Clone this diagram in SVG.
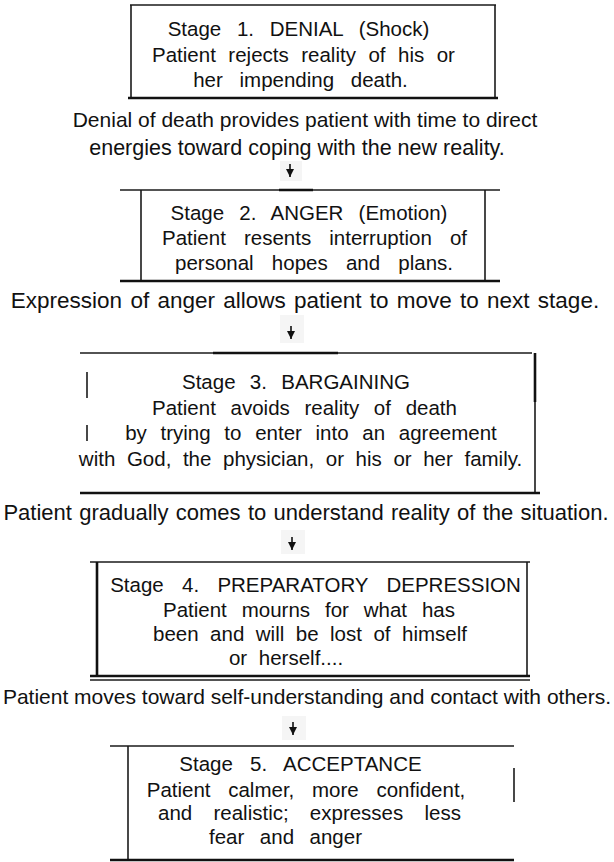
<svg xmlns="http://www.w3.org/2000/svg" width="614" height="862" viewBox="0 0 614 862">
  <defs>
    <marker id="head" viewBox="0 0 10 10" refX="10" refY="5" markerWidth="8" markerHeight="8" markerUnits="userSpaceOnUse" orient="auto">
      <path d="M0,0 L10,5 L0,10 Z" fill="#111"/>
    </marker>
    <style>
      .box { fill: #ffffff; stroke: none; }
      .edge { stroke: #1a1a1a; stroke-width: 1.6; fill: none; }
      .edge-b { stroke: #111; stroke-width: 2.6; fill: none; }
      .t { font-family: "Liberation Sans", Arial, sans-serif; font-size: 20.5px; fill: #111; text-anchor: middle; }
      .d { font-family: "Liberation Sans", Arial, sans-serif; font-size: 21.5px; fill: #111; text-anchor: middle; }
      .arrow { stroke: #111; stroke-width: 1.6; fill: none; marker-end: url(#head); }
      .patch { fill: #f5f5f5; }
    </style>
  </defs>

  <rect width="614" height="862" fill="#ffffff"/>

  <!-- Stage 1 -->
  <g id="stage1">
    <rect class="box" x="131" y="5" width="364" height="93"/>
    <line class="edge" x1="130" y1="5" x2="496" y2="5"/>
    <line class="edge" x1="131" y1="5" x2="131" y2="98"/>
    <line class="edge" x1="495" y1="5" x2="495" y2="98"/>
    <line class="edge-b" x1="128" y1="98" x2="498" y2="98"/>
    <text class="t" x="298.5" y="36" word-spacing="10">Stage 1. DENIAL (Shock)</text>
    <text class="t" x="303.5" y="62" word-spacing="6.8">Patient rejects reality of his or</text>
    <text class="t" x="300.5" y="87" word-spacing="11">her impending death.</text>
  </g>

  <!-- Stage 2 -->
  <g id="stage2">
    <rect class="box" x="141" y="190" width="344" height="91"/>
    <line class="edge" x1="120" y1="190" x2="500" y2="190"/>
    <line class="edge-b" x1="279" y1="190" x2="313" y2="190"/>
    <line class="edge" x1="141" y1="190" x2="141" y2="281"/>
    <line class="edge" x1="485" y1="190" x2="485" y2="281"/>
    <line class="edge-b" x1="120" y1="281" x2="500" y2="281"/>
    <text class="t" x="309" y="220" word-spacing="9.5">Stage 2. ANGER (Emotion)</text>
    <text class="t" x="314.5" y="245" word-spacing="12.4">Patient resents interruption of</text>
    <text class="t" x="314" y="270" word-spacing="12.5">personal hopes and plans.</text>
  </g>

  <!-- Stage 3 -->
  <g id="stage3">
    <rect class="box" x="87" y="353" width="448" height="140"/>
    <line class="edge" x1="80" y1="353" x2="532" y2="353"/>
    <line class="edge-b" x1="213" y1="353" x2="338" y2="353"/>
    <line class="edge" x1="87" y1="372" x2="87" y2="398"/>
    <line class="edge" x1="87" y1="425" x2="87" y2="441"/>
    <line class="edge-b" x1="535" y1="353" x2="535" y2="402"/>
    <line class="edge" x1="535" y1="402" x2="535" y2="493"/>
    <line class="edge-b" x1="80" y1="493" x2="540" y2="493"/>
    <text class="t" x="296" y="389" word-spacing="8.6">Stage 3. BARGAINING</text>
    <text class="t" x="304.5" y="415" word-spacing="9">Patient avoids reality of death</text>
    <text class="t" x="311" y="440" word-spacing="8">by trying to enter into an agreement</text>
    <text class="t" x="300.5" y="466" word-spacing="5.9">with God, the physician, or his or her family.</text>
  </g>

  <!-- Stage 4 -->
  <g id="stage4">
    <rect class="box" x="97" y="562" width="430" height="114"/>
    <line class="edge" x1="90" y1="562" x2="530" y2="562"/>
    <line class="edge-b" x1="97" y1="562" x2="97" y2="676"/>
    <line class="edge" x1="527" y1="562" x2="527" y2="676"/>
    <line class="edge-b" x1="90" y1="676" x2="530" y2="676"/>
    <line class="edge" x1="90" y1="680" x2="530" y2="680"/>
    <text class="t" x="315.5" y="592" word-spacing="12.6">Stage 4. PREPARATORY DEPRESSION</text>
    <text class="t" x="309" y="617" word-spacing="9.2">Patient mourns for what has</text>
    <text class="t" x="310" y="641" word-spacing="5.8">been and will be lost of himself</text>
    <text class="t" x="286" y="665" word-spacing="6">or herself....</text>
  </g>

  <!-- Stage 5 -->
  <g id="stage5">
    <rect class="box" x="128" y="746" width="386" height="114"/>
    <line class="edge" x1="110" y1="746" x2="514" y2="746"/>
    <line class="edge" x1="128" y1="746" x2="128" y2="860"/>
    <line class="edge" x1="514" y1="768" x2="514" y2="802"/>
    <line class="edge-b" x1="110" y1="860" x2="514" y2="860"/>
    <text class="t" x="300.5" y="771" word-spacing="11.4">Stage 5. ACCEPTANCE</text>
    <text class="t" x="306" y="797" word-spacing="12">Patient calmer, more confident,</text>
    <text class="t" x="309.5" y="820" word-spacing="15.5">and realistic; expresses less</text>
    <text class="t" x="285.5" y="844" word-spacing="9.8">fear and anger</text>
  </g>

  <!-- Transition notes -->
  <g id="notes">
    <text class="d" x="305" y="127" style="font-size:21px">Denial of death provides patient with time to direct</text>
    <text class="d" x="297" y="155">energies toward coping with the new reality.</text>
    <text class="d" x="305" y="308" style="font-size:22.5px" word-spacing="2">Expression of anger allows patient to move to next stage.</text>
    <text class="d" x="306" y="520" style="font-size:22px" word-spacing="1.2">Patient gradually comes to understand reality of the situation.</text>
    <text class="d" x="307" y="704" style="font-size:21px">Patient moves toward self-understanding and contact with others.</text>
  </g>

  <!-- Connectors -->
  <g id="connectors">
    <rect class="patch" x="280" y="161" width="22" height="20"/>
    <rect class="patch" x="280" y="315" width="24" height="28"/>
    <rect class="patch" x="281" y="530" width="24" height="24"/>
    <rect class="patch" x="282" y="716" width="24" height="24"/>
    <line class="arrow" x1="290" y1="164" x2="290" y2="177"/>
    <line class="arrow" x1="291" y1="326" x2="291" y2="339"/>
    <line class="arrow" x1="292" y1="537" x2="292" y2="550"/>
    <line class="arrow" x1="293" y1="722" x2="293" y2="735"/>
  </g>
</svg>
